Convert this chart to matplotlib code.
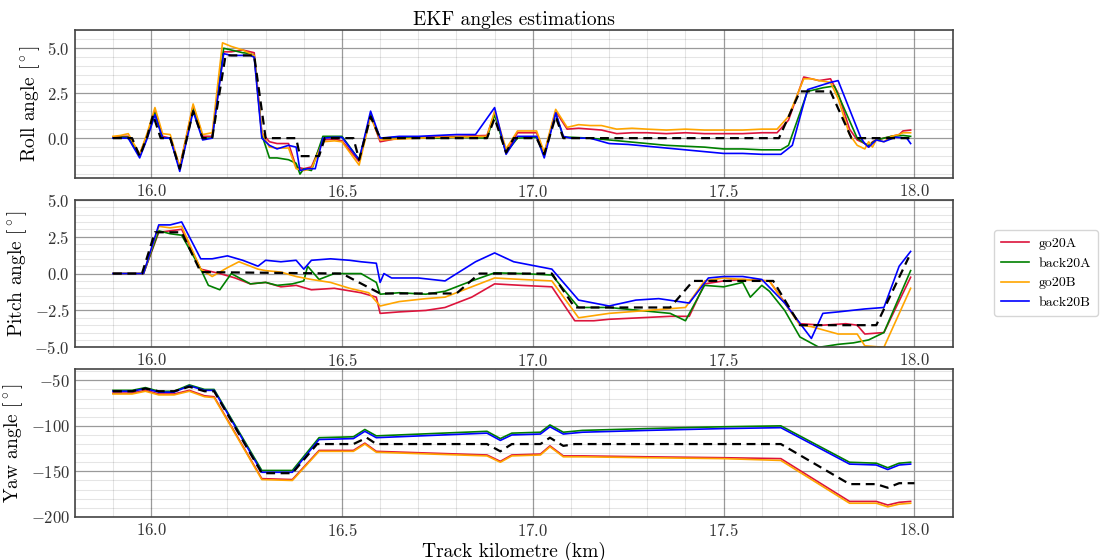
import matplotlib
matplotlib.use('Agg')
import matplotlib.pyplot as plt
from matplotlib.ticker import MultipleLocator, AutoMinorLocator

plt.rcParams['font.family'] = ['cmr10', 'DejaVu Serif']
plt.rcParams['mathtext.fontset'] = 'cm'
plt.rcParams['axes.formatter.use_mathtext'] = True
plt.rcParams['axes.unicode_minus'] = True

names = ['go20A', 'back20A', 'go20B', 'back20B']
colors = ['crimson', 'green', 'orange', 'blue']

#------------------------------------------
# Roll angle [deg]
#------------------------------------------
roll_ref_km = [15.90, 15.95, 15.97, 15.99, 16.005, 16.025, 16.05, 16.075, 16.11, 16.135, 16.16, 16.195,
               16.27, 16.30, 16.38, 16.39, 16.44, 16.455, 16.53, 16.545, 16.575, 16.60, 16.88, 16.90,
               16.93, 16.95, 17.01, 17.03, 17.06, 17.08, 17.645, 17.70, 17.78, 17.835, 18.0]
roll_ref = [0, 0, -1.0, 0.1, 1.3, 0, 0, -1.7, 1.5, 0, 0, 4.6,
            4.6, 0, 0, -1.0, -1.0, 0, 0, -1.2, 1.2, 0, 0, 1.1,
            -0.8, 0, 0, -0.9, 1.2, 0, 0, 2.6, 2.6, 0, 0]

roll_km = {
    'go20A': [15.90, 15.92, 15.94, 15.97, 15.99, 16.01, 16.03, 16.05, 16.075, 16.11, 16.135, 16.16, 16.19,
              16.21, 16.24, 16.26, 16.27, 16.29, 16.31, 16.33, 16.36, 16.38, 16.40, 16.42, 16.45, 16.48,
              16.50, 16.545, 16.575, 16.60, 16.65, 16.70, 16.75, 16.80, 16.88, 16.90, 16.93, 16.96, 17.01,
              17.03, 17.06, 17.09, 17.12, 17.15, 17.18, 17.20, 17.22, 17.26, 17.30, 17.35, 17.40, 17.45,
              17.50, 17.55, 17.60, 17.64, 17.67, 17.71, 17.73, 17.75, 17.78, 17.80, 17.83, 17.85, 17.87,
              17.88, 17.89, 17.90, 17.92, 17.94, 17.96, 17.97, 17.99],
    'back20A': [15.90, 15.92, 15.94, 15.97, 15.99, 16.01, 16.03, 16.05, 16.075, 16.11, 16.135, 16.16, 16.19,
                16.21, 16.24, 16.26, 16.27, 16.29, 16.31, 16.33, 16.36, 16.38, 16.39, 16.40, 16.42, 16.45,
                16.48, 16.50, 16.545, 16.575, 16.60, 16.65, 16.70, 16.75, 16.80, 16.88, 16.90, 16.93, 16.96,
                17.01, 17.03, 17.06, 17.08, 17.10, 17.15, 17.20, 17.25, 17.30, 17.35, 17.40, 17.45, 17.50,
                17.55, 17.60, 17.65, 17.67, 17.72, 17.74, 17.76, 17.79, 17.85, 17.87, 17.88, 17.90, 17.92,
                17.94, 17.97, 17.99],
    'go20B': [15.90, 15.92, 15.94, 15.97, 15.99, 16.01, 16.03, 16.05, 16.075, 16.11, 16.135, 16.16, 16.187,
              16.21, 16.24, 16.26, 16.27, 16.29, 16.31, 16.33, 16.36, 16.38, 16.40, 16.42, 16.45, 16.48,
              16.50, 16.545, 16.575, 16.60, 16.65, 16.70, 16.75, 16.80, 16.88, 16.90, 16.93, 16.96, 17.01,
              17.03, 17.06, 17.09, 17.12, 17.15, 17.18, 17.20, 17.22, 17.26, 17.30, 17.35, 17.40, 17.45,
              17.50, 17.55, 17.60, 17.64, 17.67, 17.71, 17.73, 17.75, 17.78, 17.80, 17.83, 17.85, 17.87,
              17.88, 17.89, 17.90, 17.92, 17.94, 17.96, 17.97, 17.99],
    'back20B': [15.90, 15.92, 15.94, 15.97, 15.99, 16.01, 16.03, 16.05, 16.075, 16.11, 16.135, 16.16, 16.19,
                16.21, 16.24, 16.26, 16.27, 16.29, 16.31, 16.33, 16.36, 16.38, 16.39, 16.41, 16.43, 16.45,
                16.48, 16.50, 16.545, 16.575, 16.60, 16.65, 16.70, 16.75, 16.80, 16.85, 16.90, 16.93, 16.96,
                17.01, 17.03, 17.06, 17.08, 17.10, 17.15, 17.20, 17.25, 17.30, 17.35, 17.40, 17.45, 17.50,
                17.55, 17.60, 17.65, 17.68, 17.72, 17.75, 17.78, 17.80, 17.86, 17.87, 17.88, 17.90, 17.92,
                17.95, 17.98, 17.99],
}
roll_val = {
    'go20A': [0.05, 0.1, 0.1, -0.9, 0.2, 1.5, 0.1, 0.0, -1.6, 1.8, 0.1, 0.1, 4.8,
              4.8, 4.9, 4.8, 4.75, 0.3, -0.2, -0.3, -0.3, -1.6, -1.7, -1.6, -0.1, -0.05,
              -0.15, -1.3, 1.3, -0.2, 0.0, 0.05, 0.1, 0.1, 0.15, 1.4, -0.8, 0.3, 0.3,
              -0.9, 1.5, 0.5, 0.55, 0.5, 0.45, 0.35, 0.25, 0.3, 0.3, 0.25, 0.3, 0.25,
              0.25, 0.25, 0.3, 0.3, 1.0, 3.4, 3.3, 3.2, 3.3, 2.5, 0.5, -0.1, -0.3,
              -0.5, -0.2, -0.1, 0.0, 0.1, 0.2, 0.4, 0.45],
    'back20A': [0.0, 0.05, 0.05, -1.0, 0.1, 1.4, 0.0, 0.0, -1.7, 1.6, 0.0, 0.0, 5.0,
                4.9, 4.75, 4.7, 4.6, 0.2, -1.1, -1.1, -1.2, -1.4, -2.0, -1.7, -1.8, 0.1,
                0.1, 0.1, -1.2, 1.3, 0.0, 0.05, 0.05, 0.0, 0.05, 0.0, 1.3, -0.8, 0.0,
                0.05, -0.9, 1.4, 0.05, 0.05, 0.0, -0.1, -0.2, -0.3, -0.4, -0.45, -0.5, -0.6,
                -0.6, -0.65, -0.65, -0.4, 2.6, 2.7, 2.8, 2.9, 0.0, -0.3, -0.4, -0.1, 0.0,
                0.1, 0.15, 0.1],
    'go20B': [0.1, 0.15, 0.25, -0.9, 0.3, 1.7, 0.25, 0.2, -1.6, 1.9, 0.2, 0.3, 5.3,
              5.1, 4.9, 4.7, 4.6, 0.3, -0.5, -0.55, -0.55, -1.7, -1.8, -1.7, -0.2, -0.15,
              -0.2, -1.5, 1.2, -0.1, -0.05, 0.0, 0.05, 0.05, 0.1, 1.5, -0.6, 0.4, 0.4,
              -0.8, 1.6, 0.6, 0.75, 0.7, 0.7, 0.6, 0.5, 0.55, 0.5, 0.45, 0.5, 0.45,
              0.45, 0.45, 0.5, 0.5, 1.2, 3.3, 3.3, 3.2, 3.1, 2.2, 0.2, -0.4, -0.6,
              -0.2, -0.5, -0.1, -0.2, 0.1, 0.2, 0.3, 0.3],
    'back20B': [0.0, 0.0, 0.0, -1.1, 0.0, 1.3, 0.0, 0.0, -1.85, 1.5, -0.1, 0.0, 4.7,
                4.6, 4.6, 4.6, 4.5, 0.0, -0.4, -0.6, -0.4, -0.5, -1.8, -1.7, -1.7, 0.0,
                0.05, 0.05, -1.2, 1.5, 0.0, 0.1, 0.1, 0.15, 0.2, 0.2, 1.7, -0.9, 0.1,
                0.1, -1.1, 1.4, 0.1, 0.0, 0.0, -0.3, -0.35, -0.45, -0.55, -0.65, -0.75, -0.85,
                -0.85, -0.9, -0.9, -0.4, 2.7, 2.9, 3.1, 3.2, 0.0, -0.3, -0.5, -0.1, -0.2,
                0.05, 0.0, -0.3],
}

#------------------------------------------
# Pitch angle [deg]
#------------------------------------------
pitch_ref_km = [15.90, 15.976, 16.01, 16.08, 16.13, 16.50, 16.60, 16.80, 16.86, 17.05, 17.11,
                17.36, 17.42, 17.63, 17.70, 17.90, 17.985]
pitch_ref = [0, 0, 2.8, 2.8, 0.1, 0.0, -1.35, -1.35, 0.0, 0.0, -2.3,
             -2.3, -0.5, -0.5, -3.5, -3.5, 1.1]

pitch_km = {
    'go20A': [15.90, 15.98, 16.02, 16.05, 16.08, 16.13, 16.18, 16.22, 16.26, 16.30, 16.34, 16.38, 16.42,
              16.48, 16.55, 16.59, 16.60, 16.65, 16.72, 16.77, 16.84, 16.90, 16.97, 17.05, 17.11, 17.16,
              17.20, 17.28, 17.36, 17.41, 17.45, 17.50, 17.55, 17.62, 17.70, 17.76, 17.82, 17.85, 17.87,
              17.92, 17.99],
    'back20A': [15.90, 15.98, 16.02, 16.05, 16.08, 16.13, 16.15, 16.18, 16.21, 16.26, 16.30, 16.33, 16.37,
                16.40, 16.41, 16.44, 16.48, 16.55, 16.59, 16.60, 16.65, 16.72, 16.77, 16.84, 16.90, 16.97,
                17.05, 17.12, 17.20, 17.28, 17.36, 17.40, 17.45, 17.50, 17.55, 17.57, 17.60, 17.62, 17.66,
                17.70, 17.75, 17.80, 17.84, 17.88, 17.92, 17.99],
    'go20B': [15.90, 15.98, 16.02, 16.05, 16.08, 16.13, 16.16, 16.20, 16.23, 16.28, 16.30, 16.34, 16.38,
              16.42, 16.47, 16.52, 16.57, 16.60, 16.65, 16.72, 16.77, 16.84, 16.90, 16.97, 17.05, 17.12,
              17.20, 17.30, 17.40, 17.45, 17.50, 17.55, 17.62, 17.70, 17.73, 17.80, 17.85, 17.87, 17.92,
              17.99],
    'back20B': [15.90, 15.98, 16.02, 16.05, 16.08, 16.13, 16.16, 16.20, 16.24, 16.28, 16.30, 16.34, 16.38,
                16.40, 16.42, 16.47, 16.52, 16.55, 16.59, 16.60, 16.61, 16.63, 16.70, 16.77, 16.85, 16.90,
                16.95, 17.05, 17.12, 17.20, 17.27, 17.33, 17.41, 17.46, 17.50, 17.55, 17.60, 17.66, 17.73,
                17.76, 17.80, 17.87, 17.92, 17.96, 17.99],
}
pitch_val = {
    'go20A': [0.0, 0.0, 2.8, 2.9, 3.0, 0.3, 0.0, -0.3, -0.7, -0.6, -0.9, -0.8, -1.1,
              -1.0, -1.3, -1.6, -2.7, -2.6, -2.5, -2.3, -1.6, -0.7, -0.8, -0.9, -3.2, -3.2,
              -3.1, -3.0, -2.9, -2.9, -0.7, -0.5, -0.4, -0.5, -3.4, -3.5, -3.4, -3.5, -4.1,
              -4.0, -0.25],
    'back20A': [0.0, 0.0, 2.9, 2.7, 2.6, 0.3, -0.8, -1.1, 0.0, -0.7, -0.6, -0.8, -0.7,
                -0.5, 0.5, -0.4, 0.0, 0.0, -0.6, -1.4, -1.3, -1.4, -1.2, -0.5, 0.05, 0.0,
                -0.1, -2.3, -2.3, -2.5, -2.7, -3.2, -0.8, -0.9, -0.6, -1.6, -0.8, -1.2, -2.5,
                -4.3, -5.0, -4.8, -4.7, -4.5, -4.0, 0.2],
    'go20B': [0.0, 0.0, 3.2, 3.1, 3.2, 0.3, -0.2, 0.4, 0.8, 0.3, 0.2, 0.1, -0.2,
              -0.4, -0.6, -1.0, -1.3, -2.2, -1.9, -1.7, -1.6, -0.9, -0.3, -0.4, -0.5, -3.0,
              -2.7, -2.5, -2.3, -0.5, -0.3, -0.4, -0.5, -3.5, -3.6, -4.1, -4.1, -4.9, -5.0,
              -1.0],
    'back20B': [0.0, 0.0, 3.3, 3.3, 3.5, 1.0, 1.0, 1.2, 0.9, 0.5, 0.9, 0.8, 0.9,
                0.3, 0.9, 1.0, 0.9, 0.8, 0.7, -0.6, 0.0, -0.3, -0.3, -0.5, 0.8, 1.4,
                0.8, 0.3, -1.8, -2.2, -1.8, -1.7, -2.0, -0.3, -0.2, -0.2, -0.4, -2.0, -4.4,
                -2.7, -2.6, -2.4, -2.3, 0.5, 1.5],
}

#------------------------------------------
# Yaw angle [deg]
#------------------------------------------
yaw_ref_km = [15.90, 15.95, 15.985, 16.02, 16.06, 16.10, 16.14, 16.165, 16.29, 16.37, 16.435, 16.53,
              16.565, 16.59, 16.88, 16.915, 16.945, 17.02, 17.045, 17.08, 17.11, 17.65, 17.83, 17.90,
              17.93, 17.96, 18.0]
yaw_ref = [-62, -62, -59, -62, -62, -57, -62, -62, -152, -152, -120, -120,
           -113, -120, -120, -128, -120, -120, -113, -122, -120, -120, -164, -164,
           -168, -163, -163]

yaw_km = [15.90, 15.95, 15.985, 16.02, 16.06, 16.10, 16.14, 16.165, 16.29, 16.37, 16.44, 16.53,
          16.56, 16.59, 16.88, 16.915, 16.945, 17.02, 17.045, 17.08, 17.13, 17.30, 17.50, 17.65,
          17.83, 17.90, 17.93, 17.96, 17.99]
yaw_val = {
    'go20A': [-64, -64, -61, -65, -65, -61, -67, -68, -158, -159, -127, -127,
              -119, -128, -132, -139, -132, -131, -122, -133, -133, -134, -135, -136,
              -183, -183, -187, -184, -183],
    'back20A': [-61, -61, -58, -62, -62, -55, -60, -60, -149, -149, -113, -112,
                -104, -111, -106, -114, -108, -107, -99, -107, -105, -103, -101, -100,
                -140, -141, -146, -141, -140],
    'go20B': [-65, -65, -62, -66, -66, -62, -68, -69, -159, -160, -128, -128,
              -120, -129, -133, -140, -133, -132, -123, -134, -134, -135, -136, -138,
              -185, -185, -189, -186, -185],
    'back20B': [-62, -62, -59, -63, -63, -56, -61, -61, -151, -151, -115, -114,
                -106, -113, -108, -116, -110, -109, -101, -109, -107, -105, -103, -102,
                -142, -143, -148, -143, -142],
}

fig = plt.figure(figsize=(11, 5.6), dpi=100)
axes = fig.subplots(3, 1, sharex=True)
fig.subplots_adjust(left=0.068, right=0.866, top=0.946, bottom=0.077, hspace=0.15)

panels = [
    (axes[0], roll_km, roll_val, roll_ref_km, roll_ref, r'Roll angle [$^\circ$]', (-2.2, 6.0), 2.5),
    (axes[1], pitch_km, pitch_val, pitch_ref_km, pitch_ref, r'Pitch angle [$^\circ$]', (-5.0, 5.0), 2.5),
    (axes[2], {n: yaw_km for n in names}, yaw_val, yaw_ref_km, yaw_ref, r'Yaw angle [$^\circ$]', (-200, -38), 50),
]

for ax, kms, vals, rkm, rval, ylab, ylim, ystep in panels:
    for name, c in zip(names, colors):
        ax.plot(kms[name], vals[name], color=c, lw=1.2, label=name)
    ax.plot(rkm, rval, color='black', lw=1.6, ls=(0, (4, 2.5)), zorder=5)
    ax.set_ylabel(ylab, fontsize=14)
    ax.set_ylim(*ylim)
    ax.set_xlim(15.8, 18.1)
    ax.xaxis.set_major_locator(MultipleLocator(0.5))
    ax.xaxis.set_minor_locator(AutoMinorLocator(5))
    ax.yaxis.set_major_locator(MultipleLocator(ystep))
    ax.yaxis.set_minor_locator(AutoMinorLocator(5))
    # minor lines are semi-transparent so they don't break the major ones
    ax.grid(which='major', color='#9a9a9a', lw=0.9)
    ax.grid(which='minor', color='black', alpha=0.1, lw=0.8)
    ax.set_axisbelow(True)
    ax.tick_params(which='both', length=0, labelsize=12, labelbottom=True, labelcolor='#333333')
    for sp in ax.spines.values():
        sp.set_color('#444444')
        sp.set_linewidth(1.2)

axes[0].set_title('EKF angles estimations', fontsize=14, pad=4)
axes[2].set_xlabel('Track kilometre (km)', fontsize=14, labelpad=2)

handles, labels = axes[0].get_legend_handles_labels()
fig.legend(handles, labels, loc='center right', bbox_to_anchor=(0.998, 0.512),
           fontsize=10, frameon=True, handlelength=2.0, handletextpad=0.7,
           borderpad=0.5, borderaxespad=0.0)

fig.savefig('out.png', dpi=100)
